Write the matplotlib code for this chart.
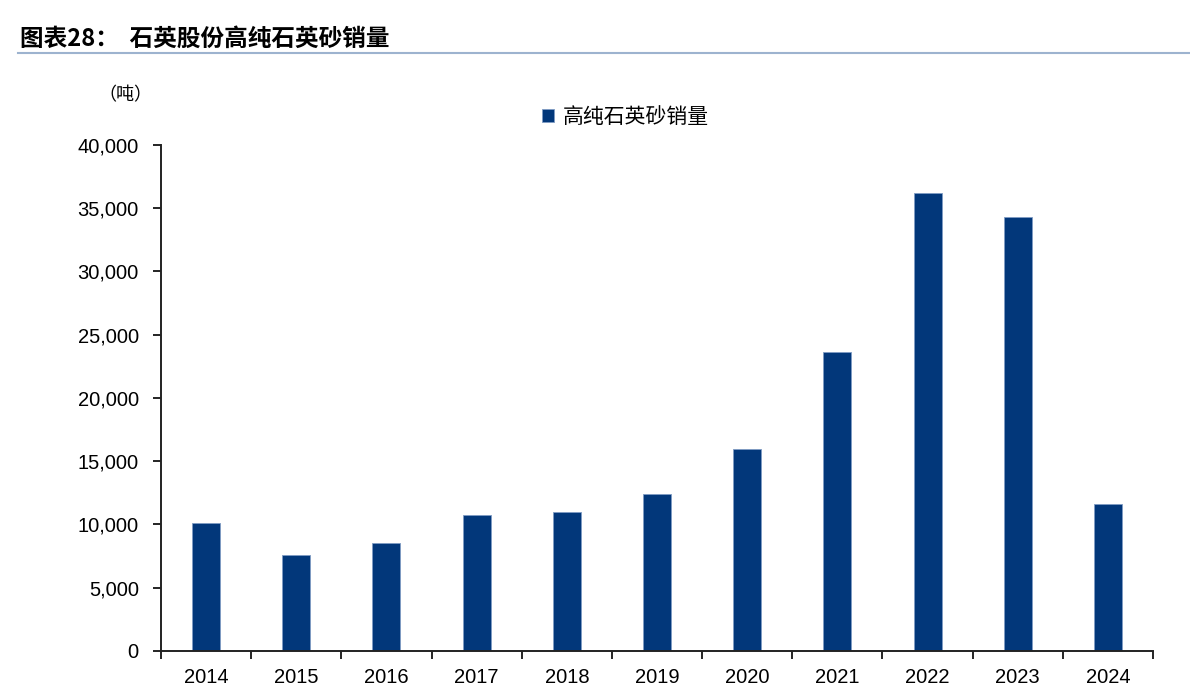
import matplotlib
matplotlib.use('Agg')
from matplotlib import pyplot as plt
from matplotlib.ticker import FuncFormatter
from matplotlib.lines import Line2D

plt.rcParams['font.family'] = ['Liberation Sans', 'Noto Sans CJK SC', 'DejaVu Sans']

# 数据
years = ['2014', '2015', '2016', '2017', '2018', '2019', '2020', '2021', '2022', '2023', '2024']
sales = [10090, 7560, 8540, 10730, 10960, 12400, 15950, 23610, 36180, 34290, 11620]
bar_color = '#02377A'

fig = plt.figure(figsize=(11.9, 7), dpi=100)
ax = fig.add_axes([0.1353, 0.07, 0.8336, 0.7229])

x = list(range(len(years)))
ax.bar(x, sales, width=0.31, color=bar_color, edgecolor='#7f9cc4', linewidth=0.6,
       label='高纯石英砂销量', zorder=2)

ax.set_xlim(-0.5, len(years) - 0.5)
ax.set_ylim(0, 40000)
ax.set_yticks(range(0, 40001, 5000))
ax.yaxis.set_major_formatter(FuncFormatter(lambda v, p: f'{int(v):,}'))

# x轴刻度在类别边界
ax.set_xticks([i - 0.5 for i in range(len(years) + 1)])
ax.set_xticklabels([])
ax.set_xticks(x, minor=True)
ax.set_xticklabels(years, minor=True)
ax.tick_params(axis='x', which='minor', length=0, pad=12, labelsize=14.5)
ax.tick_params(axis='x', which='major', direction='out', length=6, width=1.2)
ax.tick_params(axis='y', direction='out', length=6, width=1.2, labelsize=14.5, pad=10)

for side in ['top', 'right']:
    ax.spines[side].set_visible(False)
for side in ['left', 'bottom']:
    ax.spines[side].set_linewidth(1.4)
    ax.spines[side].set_color('#222222')

# 标题与分隔线
fig.text(0.017, 0.945, '图表28：  石英股份高纯石英砂销量', fontsize=17, fontweight='bold',
         family=['Noto Sans CJK SC', 'DejaVu Sans'], va='center', ha='left')
fig.add_artist(Line2D([0.015, 1.0], [0.924, 0.924], color='#9db3cf', linewidth=1.5))

# 单位
fig.text(0.105, 0.864, '（吨）', fontsize=13, family=['Noto Sans CJK SC', 'DejaVu Sans'],
         va='center', ha='center')

# 图例
leg = ax.legend(loc='upper left', bbox_to_anchor=(0.365, 1.115), frameon=False,
                prop={'family': ['Noto Sans CJK SC', 'DejaVu Sans'], 'size': 15},
                handlelength=0.6, handleheight=0.6, handletextpad=0.4)

fig.savefig('out.png', dpi=100)
